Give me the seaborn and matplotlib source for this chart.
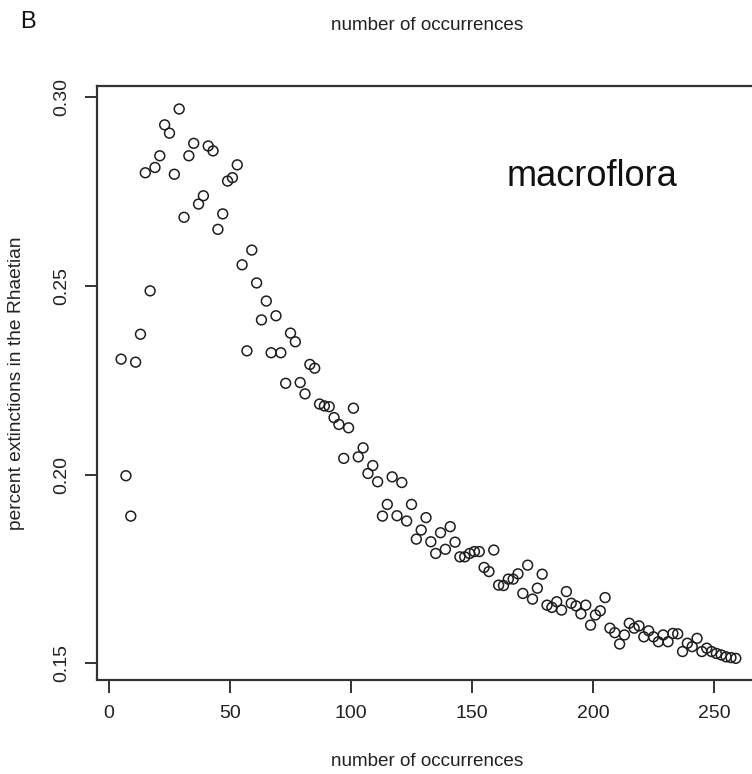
import matplotlib
matplotlib.use("Agg")
import matplotlib.pyplot as plt
import seaborn as sns
import pandas as pd
import numpy as np

# number of occurrences (x) and percent extinctions in the Rhaetian (y)
occurrences = list(range(5, 260, 2))
extinctions = [
    0.2306, 0.1997, 0.1890, 0.2298, 0.2372, 0.2800, 0.2487, 0.2814, 0.2845, 0.2927,
    0.2905, 0.2796, 0.2969, 0.2682, 0.2845, 0.2878, 0.2717, 0.2739, 0.2871, 0.2858,
    0.2650, 0.2691, 0.2778, 0.2787, 0.2821, 0.2556, 0.2328, 0.2595, 0.2508, 0.2410,
    0.2460, 0.2323, 0.2421, 0.2323, 0.2242, 0.2375, 0.2352, 0.2244, 0.2214, 0.2292,
    0.2282, 0.2187, 0.2182, 0.2180, 0.2151, 0.2133, 0.2043, 0.2124, 0.2176, 0.2047,
    0.2071, 0.2003, 0.2024, 0.1981, 0.1890, 0.1921, 0.1994, 0.1891, 0.1979, 0.1877,
    0.1921, 0.1829, 0.1853, 0.1886, 0.1822, 0.1791, 0.1846, 0.1802, 0.1862, 0.1821,
    0.1782, 0.1782, 0.1791, 0.1796, 0.1796, 0.1754, 0.1743, 0.1800, 0.1707, 0.1706,
    0.1723, 0.1723, 0.1737, 0.1685, 0.1760, 0.1670, 0.1699, 0.1736, 0.1654, 0.1648,
    0.1663, 0.1641, 0.1690, 0.1659, 0.1652, 0.1631, 0.1654, 0.1601, 0.1628, 0.1639,
    0.1674, 0.1593, 0.1581, 0.1551, 0.1575, 0.1606, 0.1593, 0.1599, 0.1570, 0.1586,
    0.1570, 0.1557, 0.1575, 0.1557, 0.1579, 0.1578, 0.1531, 0.1553, 0.1544, 0.1566,
    0.1531, 0.1540, 0.1531, 0.1526, 0.1522, 0.1517, 0.1515, 0.1513,
]
x_ticks = [0, 50, 100, 150, 200, 250]
y_ticks = [0.15, 0.20, 0.25, 0.30]
y_tick_labels = ["0.15", "0.20", "0.25", "0.30"]

df = pd.DataFrame({"occ": occurrences, "ext": extinctions})

sns.set_style("white")
fam = ["Liberation Sans", "DejaVu Sans"]
plt.rcParams["font.family"] = fam

fig = plt.figure(figsize=(7.52, 7.74), dpi=100)
W, H = 752, 774
left_px, right_px, top_px, bottom_px = 97, 762, 85.5, 679.5
ax = fig.add_axes([left_px / W, 1 - bottom_px / H,
                   (right_px - left_px) / W, (bottom_px - top_px) / H])

sns.scatterplot(data=df, x="occ", y="ext", ax=ax, marker="o", s=50,
                facecolor="none", edgecolor="#1e1e1e", linewidth=1.1, legend=False)

ax.set_xlim((left_px - 109) / 2.42, (right_px - 109) / 2.42)
ax.set_ylim(0.30 - (bottom_px - 97.3) / 3773, 0.30 + (97.3 - top_px) / 3773)

ax.set_xticks(x_ticks)
ax.set_xticklabels([str(v) for v in x_ticks], fontsize=14, color="#222")
ax.set_yticks(y_ticks)
ax.set_yticklabels(y_tick_labels, fontsize=14, color="#222", rotation=90, va="center")
ax.tick_params(axis="both", direction="out", length=9, width=1.4, color="#333",
               bottom=True, left=True)
ax.tick_params(axis="x", pad=9)
ax.tick_params(axis="y", pad=10)

for sp in ax.spines.values():
    sp.set_linewidth(1.6)
    sp.set_color("#333")

ax.set_xlabel("")
ax.set_ylabel("")

fig.text(427 / W, 1 - 762 / H, "number of occurrences", ha="center", va="center",
         fontsize=13.6, color="#222")
fig.text(427 / W, 1 - 25 / H, "number of occurrences", ha="center", va="center",
         fontsize=13.6, color="#222")
fig.text(17 / W, 1 - 383 / H, "percent extinctions in the Rhaetian", ha="center",
         va="center", rotation=90, fontsize=13.8, color="#222")
fig.text(28 / W, 1 - 22 / H, "B", ha="center", va="center", fontsize=17, color="#111")

ax.text((592 - left_px) / (right_px - left_px), (bottom_px - 177) / (bottom_px - top_px),
        "macroflora", transform=ax.transAxes, ha="center", va="center",
        fontsize=26, color="#111")

fig.savefig("out.png", dpi=100)
